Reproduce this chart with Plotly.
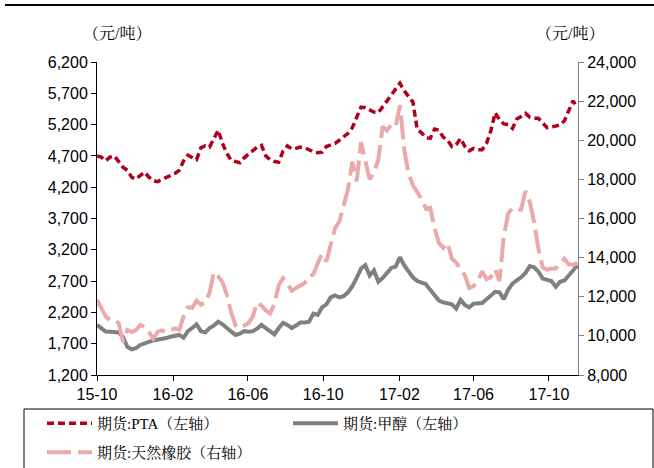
import pandas as pd
import plotly.graph_objects as go

dates = pd.date_range("2015-10-01", periods=112, freq="7D")

pta = [4700, 4680, 4620, 4680, 4700, 4600, 4520, 4470, 4360, 4330,
       4390, 4440, 4360, 4300, 4290, 4320, 4360, 4390, 4420, 4470,
       4620, 4710, 4670, 4640, 4830, 4860, 4840, 4990, 5110, 4900,
       4740, 4630, 4610, 4590, 4670, 4730, 4780, 4840, 4870, 4700,
       4640, 4610, 4600, 4780, 4860, 4810, 4820, 4840, 4830, 4790,
       4765, 4750, 4760, 4850, 4880, 4900, 4950, 5000, 5060, 5150,
       5300, 5480, 5470, 5430, 5400, 5390, 5480, 5580, 5670, 5760,
       5860, 5740, 5650, 5560, 5120, 5070, 4990, 4980, 5130, 5110,
       5000, 4950, 4850, 4880, 4980, 4850, 4780, 4820, 4800, 4800,
       4900, 5100, 5390, 5280, 5210, 5200, 5140, 5290, 5330, 5380,
       5320, 5300, 5300, 5220, 5150, 5160, 5180, 5195, 5260, 5420,
       5580, 5470]

methanol = [2000, 1940, 1895, 1890, 1890, 1880, 1810, 1650, 1610, 1630,
            1680, 1710, 1730, 1750, 1760, 1765, 1790, 1810, 1830, 1840,
            1795, 1900, 1950, 2010, 1900, 1880, 1950, 1990, 2050, 2010,
            1950, 1900, 1840, 1860, 1900, 1890, 1900, 1940, 2000, 1950,
            1890, 1850, 1950, 2030, 2000, 1950, 1990, 2040, 2040, 2050,
            2180, 2160, 2280, 2330, 2440, 2470, 2440, 2460, 2520, 2620,
            2750, 2900, 2955, 2790, 2870, 2690, 2750, 2830, 2910, 2930,
            3080, 2950, 2860, 2760, 2700, 2675, 2650, 2560, 2480, 2390,
            2360, 2350, 2330, 2260, 2400, 2320, 2280, 2340, 2350, 2350,
            2410, 2480, 2530, 2520, 2410, 2560, 2660, 2710, 2760, 2830,
            2940, 2920, 2850, 2740, 2720, 2700, 2610, 2690, 2710, 2790,
            2860, 2950]

rubber = [11840, 11400, 11000, 10800, 10800, 10650, 9700, 10300, 10200, 10300,
          10560, 10450, 10200, 9850, 10200, 10280, 10200, 10300, 10380, 10300,
          11000, 11470, 11430, 11800, 11600, 11700, 12200, 13250, 13050, 12750,
          12100, 11200, 10550, 10400, 10500, 10650, 11000, 11700, 11550, 11300,
          11150, 11650, 12600, 12950, 12700, 12300, 12450, 12550, 12700, 13050,
          13150, 13700, 14200, 13800, 14700, 15500, 15850, 16600, 17500, 18900,
          17900, 19900, 19000, 18000, 18350, 19000, 20700, 20500, 20800, 20700,
          21800, 19500, 18300, 17700, 17350, 17000, 16500, 16550, 15500, 14750,
          14500, 14750, 13950, 13750, 13400, 13100, 12450, 12550, 12800, 13300,
          12900, 13000, 13400, 12800, 15100, 16250, 16540, 16500, 16450, 17400,
          16850, 15800, 14450, 13500, 13380, 13450, 13450, 13700, 13950, 13650,
          13620, 13730]

x_ticks = ["2015-10-01", "2016-02-01", "2016-06-01", "2016-10-01",
           "2017-02-01", "2017-06-01", "2017-10-01"]
x_tick_labels = ["15-10", "16-02", "16-06", "16-10", "17-02", "17-06", "17-10"]
left_ticks = [1200, 1700, 2200, 2700, 3200, 3700, 4200, 4700, 5200, 5700, 6200]
right_ticks = [8000, 10000, 12000, 14000, 16000, 18000, 20000, 22000, 24000]

names = ["期货:PTA（左轴）", "期货:甲醇（左轴）", "期货:天然橡胶（右轴）"]

num_font = "Liberation Sans, Arial, sans-serif"
cjk_font = "Liberation Serif, Noto Serif CJK SC, Noto Sans CJK SC, serif"

PL, PR, PT, PB = 97, 578, 62, 375
PW, PH = PR - PL, PB - PT


def px(x):
    return (x - PL) / PW


def py(y):
    return (PB - y) / PH


fig = go.Figure()
fig.add_trace(go.Scatter(x=dates, y=rubber, name=names[2], mode="lines",
                         line=dict(color="#EAAAAA", width=4, dash="24px,7px"),
                         yaxis="y2", legend="legend3"))
fig.add_trace(go.Scatter(x=dates, y=methanol, name=names[1], mode="lines",
                         line=dict(color="#808080", width=4), legend="legend2"))
fig.add_trace(go.Scatter(x=dates, y=pta, name=names[0], mode="lines",
                         line=dict(color="#B0001E", width=3.5, dash="7px,4px"),
                         legend="legend"))

leg_common = dict(orientation="h", xanchor="left", yanchor="top",
                  font=dict(family=cjk_font, size=15, color="black"),
                  bgcolor="rgba(0,0,0,0)", itemwidth=45)

fig.update_layout(
    width=654, height=468,
    margin=dict(l=PL, r=654 - PR, t=PT, b=468 - PB, autoexpand=False),
    plot_bgcolor="white", paper_bgcolor="white",
    showlegend=True,
    xaxis=dict(type="date", range=["2015-10-01", "2017-11-17"],
               tickvals=x_ticks, ticktext=x_tick_labels,
               showline=True, linecolor="black", linewidth=1,
               ticks="outside", ticklen=5, tickcolor="black",
               showgrid=False, zeroline=False,
               tickfont=dict(family=num_font, size=16, color="black")),
    yaxis=dict(range=[1200, 6200], tickvals=left_ticks, tickformat=",",
               showline=True, linecolor="black", linewidth=1,
               ticks="outside", ticklen=5, tickcolor="black",
               showgrid=False, zeroline=False,
               tickfont=dict(family=num_font, size=16, color="black")),
    yaxis2=dict(range=[8000, 24000], tickvals=right_ticks, tickformat=",",
                overlaying="y", side="right",
                showline=True, linecolor="#808080", linewidth=1,
                ticks="outside", ticklen=5, tickcolor="#808080",
                showgrid=False, zeroline=False,
                tickfont=dict(family=num_font, size=16, color="black")),
    legend=dict(x=px(42), y=py(407), **leg_common),
    legend2=dict(x=px(288), y=py(407), **leg_common),
    legend3=dict(x=px(42), y=py(436), **leg_common),
)

fig.add_annotation(text="（元/吨）", xref="paper", yref="paper",
                   x=px(117), y=py(33), xanchor="center", yanchor="middle",
                   showarrow=False,
                   font=dict(family=cjk_font, size=16, color="black"))
fig.add_annotation(text="（元/吨）", xref="paper", yref="paper",
                   x=px(570), y=py(33), xanchor="center", yanchor="middle",
                   showarrow=False,
                   font=dict(family=cjk_font, size=16, color="black"))

fig.add_shape(type="line", xref="paper", yref="paper",
              x0=px(5), x1=px(654), y0=py(5), y1=py(5),
              line=dict(color="black", width=2))
fig.add_shape(type="rect", xref="paper", yref="paper",
              x0=px(24), x1=px(653), y0=py(470), y1=py(409),
              line=dict(color="black", width=1))

fig.write_html("out.html",
               config={"displayModeBar": False},
               post_script="document.body.style.margin='0';document.body.style.overflow='hidden';")
